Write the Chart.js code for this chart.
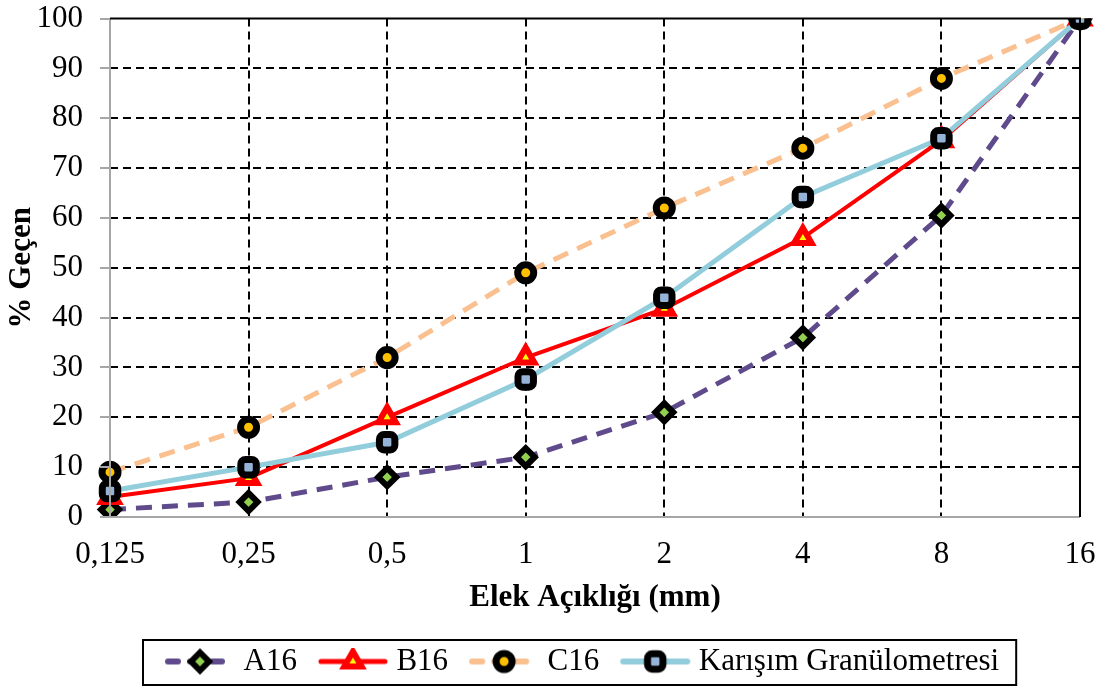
<!DOCTYPE html>
<html>
<head>
<meta charset="utf-8">
<script src="https://cdn.jsdelivr.net/npm/chart.js@4.4.1/dist/chart.umd.min.js"></script>
<style>
  body { margin: 0; background: #fff; }
  #wrap { width: 1107px; height: 687px; }
</style>
</head>
<body>
<div id="wrap"><canvas id="chart"></canvas></div>
<script>
'use strict';

const sieves = ['0,125', '0,25', '0,5', '1', '2', '4', '8', '16'];
const a16 = [1.5, 3, 8, 12, 21, 36, 60.5, 100];
const b16 = [4, 7.8, 20, 32, 41.8, 56, 75.6, 100];
const c16 = [9, 18, 32, 49, 62, 74, 88, 100];
const mix = [5.2, 10, 15, 27.6, 44, 64.2, 76, 100];
const yTicks = [0, 10, 20, 30, 40, 50, 60, 70, 80, 90, 100];

const FONT = '"Liberation Serif", "Times New Roman", serif';
const FS = 31;
const LEGEND_X = 154;

// legend symbol: line piece + marker, drawn on a small canvas
function legendSymbol(ds) {
    const c = document.createElement('canvas');
    c.width = 90;
    c.height = 28;
    const g = c.getContext('2d');
    g.strokeStyle = ds.borderColor;
    g.lineWidth = ds.borderWidth + 1;
    g.lineCap = 'round';
    g.setLineDash(ds.legendDash || []);
    g.beginPath();
    g.moveTo(22, 14);
    g.lineTo(86, 14);
    g.stroke();
    g.setLineDash([]);
    g.fillStyle = ds.pointBackgroundColor;
    g.strokeStyle = ds.pointBorderColor;
    g.lineWidth = ds.pointBorderWidth;
    Chart.helpers.drawPoint(g, {
        pointStyle: ds.pointStyle,
        radius: ds.pointRadius,
        borderWidth: ds.pointBorderWidth,
        rotation: 0
    }, 54, 14);
    return c;
}

const frame = {
    id: 'frame',
    afterLayout(chart) {
        // move legend so it sits under the plot like in the original
        const lg = chart.legend;
        if (!lg || !lg.lineWidths) return;
        const natural = (lg.left + 10 + lg.right - lg.lineWidths[0]) / 2;
        const dx = LEGEND_X - natural;
        lg.left += dx;
        lg.right += dx;
    },
    afterDatasetsDraw(chart) {
        const {ctx, chartArea: a} = chart;
        const y = chart.scales.y;
        ctx.save();
        ctx.lineWidth = 2;
        ctx.strokeStyle = '#a6a6a6';
        yTicks.forEach(v => {
            const py = Math.round(y.getPixelForValue(v));
            ctx.beginPath();
            ctx.moveTo(a.left - 10, py);
            ctx.lineTo(a.left, py);
            ctx.stroke();
        });
        ctx.beginPath();
        ctx.moveTo(a.left, a.top);
        ctx.lineTo(a.left, a.bottom);
        ctx.lineTo(a.right, a.bottom);
        ctx.stroke();
        ctx.strokeStyle = '#000';
        ctx.beginPath();
        ctx.moveTo(a.left, a.top);
        ctx.lineTo(a.right, a.top);
        ctx.lineTo(a.right, a.bottom);
        ctx.stroke();
        ctx.restore();
    },
    afterDraw(chart) {
        const lg = chart.legend;
        if (!lg || !lg.lineWidths) return;
        const right = LEGEND_X + lg.lineWidths[0] - 10 + 17;
        const ctx = chart.ctx;
        ctx.save();
        ctx.strokeStyle = '#000';
        ctx.lineWidth = 2;
        ctx.strokeRect(143, 640, right - 143, 45);
        ctx.restore();
    }
};

const datasets = [
    {
        label: 'A16', data: a16, order: 3,
        borderColor: '#5f4b8b', borderWidth: 5, borderDash: [16, 10], legendDash: [10, 12],
        pointStyle: 'rectRot', pointRadius: 9, pointBorderWidth: 6,
        pointBackgroundColor: '#92d050', pointBorderColor: '#000'
    },
    {
        label: 'B16', data: b16, order: 2,
        borderColor: '#ff0000', borderWidth: 4,
        pointStyle: 'triangle', pointRadius: 10, pointBorderWidth: 6,
        pointBackgroundColor: '#ffff00', pointBorderColor: '#ff0000'
    },
    {
        label: 'C16', data: c16, order: 1,
        borderColor: '#fac090', borderWidth: 5, borderDash: [16, 10], legendDash: [10, 12],
        pointStyle: 'circle', pointRadius: 8, pointBorderWidth: 7,
        pointBackgroundColor: '#ffc000', pointBorderColor: '#000'
    },
    {
        label: 'Karışım Granülometresi', data: mix, order: 0,
        borderColor: '#92cddc', borderWidth: 5,
        pointStyle: 'rectRounded', pointRadius: 9, pointBorderWidth: 7,
        pointBackgroundColor: '#95b3d7', pointBorderColor: '#000'
    }
];
datasets.forEach(ds => {
    ds.fill = false;
    ds.tension = 0;
    ds.pointHoverRadius = ds.pointRadius;
});

new Chart(document.getElementById('chart'), {
    type: 'line',
    data: { labels: sieves, datasets: datasets },
    plugins: [frame],
    options: {
        responsive: true,
        maintainAspectRatio: false,
        animation: false,
        layout: { padding: { left: 0, right: 27, top: 0, bottom: 0 } },
        plugins: {
            tooltip: { enabled: false },
            legend: {
                position: 'bottom',
                labels: {
                    usePointStyle: true,
                    pointStyleWidth: 74,
                    padding: 10,
                    color: '#000',
                    font: { family: FONT, size: FS },
                    generateLabels(chart) {
                        return chart.data.datasets.map((ds, i) => ({
                            text: ds.label,
                            pointStyle: legendSymbol(ds),
                            fillStyle: 'transparent',
                            strokeStyle: 'transparent',
                            lineWidth: 0,
                            fontColor: '#000',
                            datasetIndex: i,
                            hidden: false
                        }));
                    }
                }
            }
        },
        scales: {
            x: {
                offset: false,
                grid: {
                    color: ctx => (ctx.index === 0 || ctx.index === sieves.length - 1) ? 'rgba(0,0,0,0)' : '#000',
                    tickColor: 'rgba(0,0,0,0)',
                    lineWidth: 2,
                    tickLength: 19
                },
                border: { display: false, dash: [8, 5] },
                ticks: {
                    color: '#000', padding: 0,
                    font: { family: FONT, size: FS },
                    maxRotation: 0, autoSkip: false
                },
                title: {
                    display: true, text: 'Elek Açıklığı (mm)', color: '#000',
                    font: { family: FONT, size: FS, weight: 'bold' },
                    padding: { top: 0, bottom: 19 }
                },
                afterFit(scale) {
                    const lh = scale.chart.legend ? scale.chart.legend.height : 52;
                    scale.height = 687 - 517 - lh;
                }
            },
            y: {
                min: 0, max: 100,
                afterBuildTicks(scale) { scale.ticks = yTicks.map(v => ({ value: v })); },
                grid: {
                    color: ctx => (ctx.tick && (ctx.tick.value === 0 || ctx.tick.value === 100)) ? 'rgba(0,0,0,0)' : '#000',
                    tickColor: 'rgba(0,0,0,0)',
                    lineWidth: 2,
                    tickLength: 27
                },
                border: { display: false, dash: [8, 5] },
                ticks: {
                    color: '#000', padding: 0,
                    font: { family: FONT, size: FS }
                },
                title: {
                    display: true, text: '% Geçen', color: '#000',
                    font: { family: FONT, size: FS, weight: 'bold' },
                    padding: { top: 3, bottom: 0 }
                },
                afterFit(scale) { scale.width = 110; }
            }
        }
    }
});
</script>
</body>
</html>
